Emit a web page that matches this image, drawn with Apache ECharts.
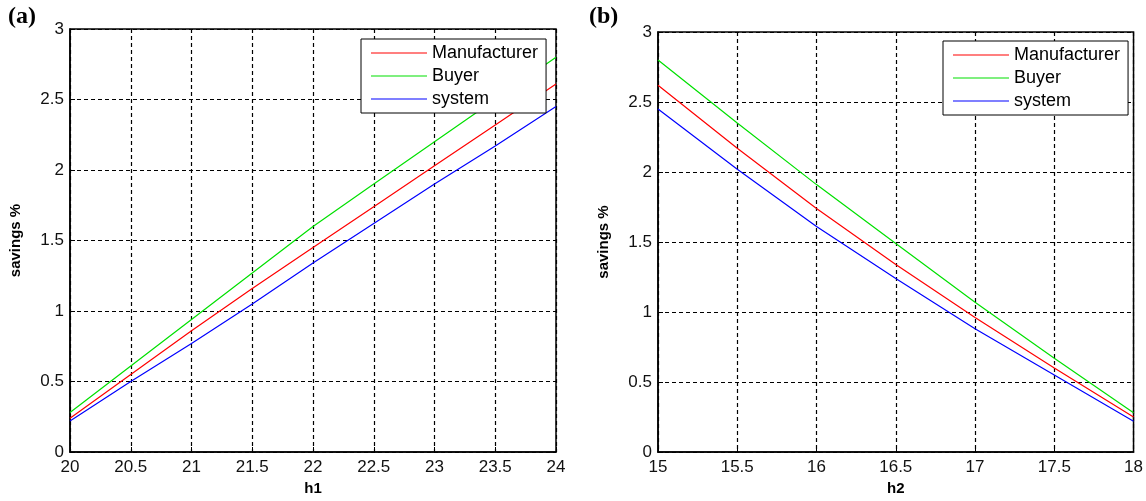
<!DOCTYPE html>
<html>
<head>
<meta charset="utf-8">
<script src="https://cdn.jsdelivr.net/npm/echarts@6/dist/echarts.min.js"></script>
<style>
  html, body { margin: 0; padding: 0; background: #fff; }
  #main { width: 1146px; height: 501px; }
</style>
</head>
<body>
<div id="main"></div>
<script>
// panel (a): savings vs h1
var h1 = [20, 20.5, 21, 21.5, 22, 22.5, 23, 23.5, 24];
var manufacturerA = [0.24, 0.55, 0.86, 1.16, 1.45, 1.74, 2.03, 2.32, 2.61];
var buyerA = [0.28, 0.61, 0.94, 1.27, 1.60, 1.90, 2.20, 2.50, 2.80];
var systemA = [0.22, 0.50, 0.77, 1.05, 1.34, 1.62, 1.90, 2.17, 2.45];

// panel (b): savings vs h2
var h2 = [15, 15.5, 16, 16.5, 17, 17.5, 18];
var manufacturerB = [2.62, 2.17, 1.74, 1.34, 0.96, 0.60, 0.25];
var buyerB = [2.80, 2.35, 1.91, 1.49, 1.07, 0.67, 0.28];
var systemB = [2.45, 2.02, 1.61, 1.24, 0.88, 0.55, 0.22];

var seriesNames = ['Manufacturer', 'Buyer', 'system'];
var seriesColors = ['#ff0000', '#00e000', '#0000ff'];

function pairs(xs, ys) {
    return xs.map(function (x, i) { return [x, ys[i]]; });
}

var labelFont = {fontFamily: 'Liberation Sans, Arial', fontSize: 17, color: '#111'};

function xAxisCfg(idx, min, max, name) {
    return {
        type: 'value', gridIndex: idx, min: min, max: max, interval: 0.5,
        name: name, nameLocation: 'middle', nameGap: 29,
        nameTextStyle: {fontFamily: 'Liberation Sans, Arial', fontSize: 15, fontWeight: 'bold', color: '#000'},
        axisLine: {lineStyle: {color: '#000', width: 1.5}},
        axisTick: {inside: true, length: 5, lineStyle: {color: '#000'}},
        axisLabel: Object.assign({margin: 7}, labelFont),
        splitLine: {show: true, lineStyle: {color: '#000', type: [4, 3], width: 1.2}}
    };
}

function yAxisCfg(idx) {
    return {
        type: 'value', gridIndex: idx, min: 0, max: 3, interval: 0.5,
        name: 'savings %', nameLocation: 'middle', nameGap: 47,
        nameTextStyle: {fontFamily: 'Liberation Sans, Arial', fontSize: 15, fontWeight: 'bold', color: '#000'},
        axisLine: {show: true, lineStyle: {color: '#000', width: 1.5}},
        axisTick: {show: true, inside: true, length: 5, lineStyle: {color: '#000'}},
        axisLabel: Object.assign({margin: 6}, labelFont),
        splitLine: {show: true, lineStyle: {color: '#000', type: [4, 3], width: 1.2}}
    };
}

function lineSeries(name, color, idx, data) {
    return {
        name: name, type: 'line', xAxisIndex: idx, yAxisIndex: idx,
        data: data, showSymbol: false, symbol: 'none', animation: false,
        lineStyle: {color: color, width: 1.2}, itemStyle: {color: color}
    };
}

function legendCfg(left, top) {
    return {
        data: seriesNames, orient: 'vertical', left: left, top: top,
        backgroundColor: '#fff', borderColor: '#000', borderWidth: 1,
        padding: [5, 8, 5, 10], itemGap: 5, itemWidth: 56, itemHeight: 18,
        icon: 'path://M0,9 L56,9 L56,10 L0,10 Z',
        textStyle: {fontFamily: 'Liberation Sans, Arial', fontSize: 18, color: '#000', padding: [0, 0, 0, 0]},
        selectedMode: false
    };
}

var chart = echarts.init(document.getElementById('main'));
var series = [];
[manufacturerA, buyerA, systemA].forEach(function (ys, i) {
    series.push(lineSeries(seriesNames[i], seriesColors[i], 0, pairs(h1, ys)));
});
[manufacturerB, buyerB, systemB].forEach(function (ys, i) {
    series.push(lineSeries(seriesNames[i], seriesColors[i], 1, pairs(h2, ys)));
});

chart.setOption({
    backgroundColor: '#fff',
    animation: false,
    title: [
        {text: '(a)', left: 3, top: 0, textStyle: {fontFamily: 'Liberation Serif, Times New Roman', fontSize: 24, fontWeight: 'bold', color: '#000'}},
        {text: '(b)', left: 584, top: 0, textStyle: {fontFamily: 'Liberation Serif, Times New Roman', fontSize: 24, fontWeight: 'bold', color: '#000'}}
    ],
    grid: [
        {left: 70, right: 590, top: 29, bottom: 49, show: true, borderColor: '#000', borderWidth: 1.5, backgroundColor: 'transparent'},
        {left: 658, right: 10, top: 32, bottom: 46, show: true, borderColor: '#000', borderWidth: 1.5, backgroundColor: 'transparent'}
    ],
    xAxis: [xAxisCfg(0, 20, 24, 'h1'), xAxisCfg(1, 15, 18, 'h2')],
    yAxis: [yAxisCfg(0), yAxisCfg(1)],
    legend: [legendCfg(361, 39), legendCfg(943, 41)],
    series: series
});
</script>
</body>
</html>
